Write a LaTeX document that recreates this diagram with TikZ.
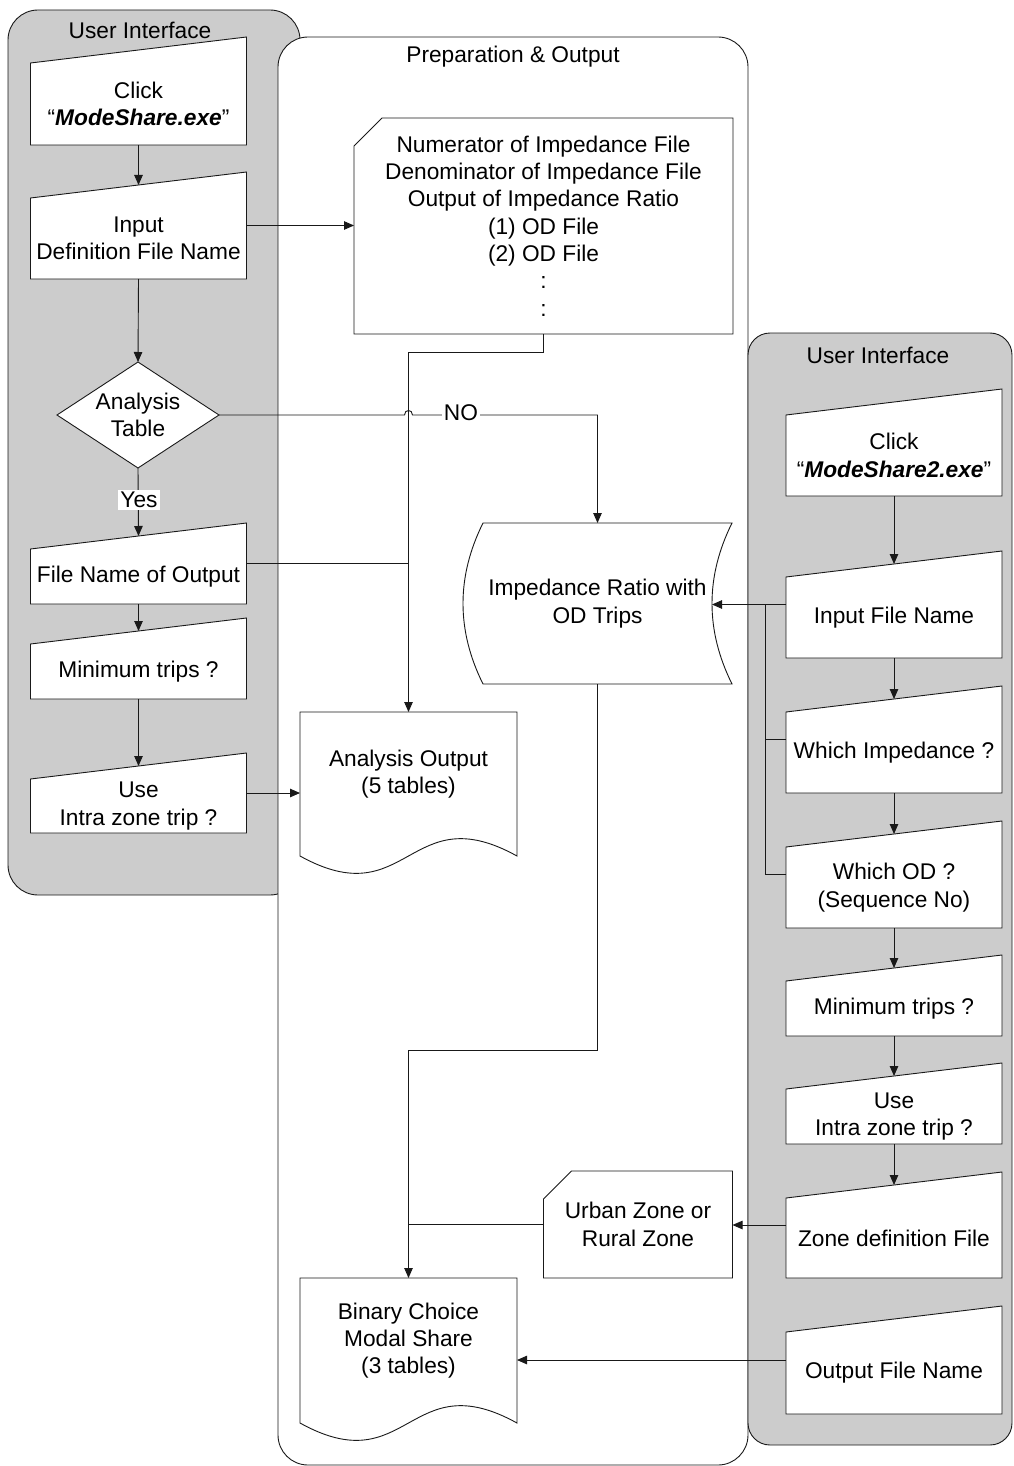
\documentclass[tikz,border=0pt]{standalone}
\usepackage{fontspec}
\setmainfont{Liberation Sans}
\usetikzlibrary{arrows.meta,shapes.geometric}

\definecolor{panelgray}{RGB}{204,204,204}
\definecolor{linecol}{RGB}{25,25,25}
\newcommand\flowsize{\fontsize{22.7pt}{27.3pt}\selectfont}

\newdimen\shpxa \newdimen\shpya
\newdimen\shpxb \newdimen\shpyb
\newdimen\shpxc \newdimen\shpyc
\newdimen\shpxd \newdimen\shpyd
\newdimen\shpxe \newdimen\shph

\makeatletter
% manual input: body rectangle with a lid rising 26pt to the right
\pgfdeclareshape{manualinput}{
  \inheritsavedanchors[from=rectangle]
  \inheritanchorborder[from=rectangle]
  \inheritanchor[from=rectangle]{center}
  \inheritanchor[from=rectangle]{north}
  \inheritanchor[from=rectangle]{south}
  \inheritanchor[from=rectangle]{east}
  \inheritanchor[from=rectangle]{west}
  \anchor{in}{\southwest \shpxa=\pgf@x
    \northeast \pgf@x=.5\pgf@x \advance\pgf@x by .5\shpxa
    \advance\pgf@y by 13pt}
  \anchor{lft}{\northeast \shpyb=\pgf@y
    \southwest \pgf@y=.5\pgf@y \advance\pgf@y by .5\shpyb
    \advance\pgf@y by 13pt}
  \anchor{rgt}{\southwest \shpya=\pgf@y
    \northeast \pgf@y=.5\pgf@y \advance\pgf@y by .5\shpya
    \advance\pgf@y by 13pt}
  \backgroundpath{
    \southwest \shpxa=\pgf@x \shpya=\pgf@y
    \northeast \shpxb=\pgf@x \shpyb=\pgf@y
    \shpyc=\shpyb \advance\shpyc by 26pt
    \pgfpathmoveto{\pgfqpoint{\shpxa}{\shpya}}
    \pgfpathlineto{\pgfqpoint{\shpxb}{\shpya}}
    \pgfpathlineto{\pgfqpoint{\shpxb}{\shpyc}}
    \pgfpathlineto{\pgfqpoint{\shpxa}{\shpyb}}
    \pgfpathclose
  }
}
% punched card: rectangle with the upper left corner cut off
\pgfdeclareshape{punchcard}{
  \inheritsavedanchors[from=rectangle]
  \inheritanchorborder[from=rectangle]
  \inheritanchor[from=rectangle]{center}
  \inheritanchor[from=rectangle]{north}
  \inheritanchor[from=rectangle]{south}
  \inheritanchor[from=rectangle]{east}
  \inheritanchor[from=rectangle]{west}
  \backgroundpath{
    \southwest \shpxa=\pgf@x \shpya=\pgf@y
    \northeast \shpxb=\pgf@x \shpyb=\pgf@y
    \shpxc=\shpxa \advance\shpxc by 28pt
    \shpyc=\shpyb \advance\shpyc by -28pt
    \pgfpathmoveto{\pgfqpoint{\shpxa}{\shpya}}
    \pgfpathlineto{\pgfqpoint{\shpxb}{\shpya}}
    \pgfpathlineto{\pgfqpoint{\shpxb}{\shpyb}}
    \pgfpathlineto{\pgfqpoint{\shpxc}{\shpyb}}
    \pgfpathlineto{\pgfqpoint{\shpxa}{\shpyc}}
    \pgfpathclose
  }
}
% document: sides run 20pt below the body, closed by a wave
\pgfdeclareshape{wavedoc}{
  \inheritsavedanchors[from=rectangle]
  \inheritanchorborder[from=rectangle]
  \inheritanchor[from=rectangle]{center}
  \inheritanchor[from=rectangle]{north}
  \inheritanchor[from=rectangle]{south}
  \inheritanchor[from=rectangle]{east}
  \inheritanchor[from=rectangle]{west}
  \backgroundpath{
    \southwest \shpxa=\pgf@x \shpya=\pgf@y
    \northeast \shpxb=\pgf@x \shpyb=\pgf@y
    \advance\shpya by -20pt
    \shph=\shpxb \advance\shph by -\shpxa
    \shpxc=\shpxa \advance\shpxc by .5\shph
    \shph=.277\shph
    \shpyc=\shpya \advance\shpyc by -\shph
    \shpyd=\shpya \advance\shpyd by \shph
    \pgfpathmoveto{\pgfqpoint{\shpxb}{\shpya}}
    \pgfpathlineto{\pgfqpoint{\shpxb}{\shpyb}}
    \pgfpathlineto{\pgfqpoint{\shpxa}{\shpyb}}
    \pgfpathlineto{\pgfqpoint{\shpxa}{\shpya}}
    \pgfpathcurveto{\pgfqpoint{\shpxc}{\shpyc}}{\pgfqpoint{\shpxc}{\shpyd}}{\pgfqpoint{\shpxb}{\shpya}}
    \pgfpathclose
  }
}
% stored data: both sides bowed to the left by 20pt
\pgfdeclareshape{storeddata}{
  \inheritsavedanchors[from=rectangle]
  \inheritanchorborder[from=rectangle]
  \inheritanchor[from=rectangle]{center}
  \inheritanchor[from=rectangle]{north}
  \inheritanchor[from=rectangle]{south}
  \inheritanchor[from=rectangle]{east}
  \inheritanchor[from=rectangle]{west}
  \backgroundpath{
    \southwest \shpxa=\pgf@x \shpya=\pgf@y
    \northeast \shpxb=\pgf@x \shpyb=\pgf@y
    \shph=\shpyb \advance\shph by -\shpya
    \shpxc=\shpxa \advance\shpxc by 20pt
    \shpxd=\shpxa \advance\shpxd by -6.667pt
    \shpxe=\shpxb \advance\shpxe by -26.667pt
    \shpyc=\shpya \advance\shpyc by .3333\shph
    \shpyd=\shpya \advance\shpyd by .6667\shph
    \pgfpathmoveto{\pgfqpoint{\shpxc}{\shpyb}}
    \pgfpathlineto{\pgfqpoint{\shpxb}{\shpyb}}
    \pgfpathcurveto{\pgfqpoint{\shpxe}{\shpyd}}{\pgfqpoint{\shpxe}{\shpyc}}{\pgfqpoint{\shpxb}{\shpya}}
    \pgfpathlineto{\pgfqpoint{\shpxc}{\shpya}}
    \pgfpathcurveto{\pgfqpoint{\shpxd}{\shpyc}}{\pgfqpoint{\shpxd}{\shpyd}}{\pgfqpoint{\shpxc}{\shpyb}}
    \pgfpathclose
  }
}
\makeatother

\tikzset{
  base/.style={draw=linecol, fill=white, line width=0.9pt, inner sep=0pt,
    outer sep=0pt, align=center, font=\flowsize},
  inbox/.style={base, shape=manualinput, minimum width=216pt, minimum height=#1},
  cardbox/.style={base, shape=punchcard},
  docbox/.style={base, shape=wavedoc, minimum width=217pt, minimum height=#1},
  storebox/.style={base, shape=storeddata},
  decision/.style={base, diamond, aspect=1.53, minimum width=162pt, minimum height=106pt},
  panel/.style={draw=linecol, line width=0.9pt, rounded corners=#1},
  title/.style={font=\flowsize, inner sep=0pt},
  line/.style={draw=linecol, line width=0.9pt},
  arr/.style={line, -{Triangle[length=10pt,width=8.5pt]}},
  lab/.style={fill=white, font=\flowsize, inner sep=2pt}
}

\begin{document}
\begin{tikzpicture}[x=1pt,y=-1pt]
\useasboundingbox (0,0) rectangle (1013,1466);

% swimlanes
\path[panel=30pt, fill=panelgray] (8,10) rectangle (300,895);
\path[panel=30pt, fill=white] (278,37) rectangle (748,1465);
\path[panel=22pt, fill=panelgray] (748,333) rectangle (1012,1445);
\node[title] (tl) at (140,30) {User Interface};
\node[title] (tm) at (513,57) {Preparation \& Output};
\node[title] (tr) at (878,355) {User Interface};

% first program
\node[inbox=82pt] (c1) at (138.5,104) {Click\\“\textbf{\textit{ModeShare.exe}}”};
\node[inbox=81pt] (inp) at (138.5,238.5) {Input\\Definition File Name};
\node[decision] (dia) at (138,415) {Analysis\\Table};
\node[inbox=55pt] (fno) at (138.5,576.5) {File Name of Output};
\node[inbox=55pt] (mt) at (138.5,671.5) {Minimum trips ?};
\node[inbox=54pt] (uiz) at (138.5,806) {Use\\Intra zone trip ?};

% files and outputs
\node[cardbox, minimum width=379pt, minimum height=216pt] (card) at (543.5,226)
  {Numerator of Impedance File\\Denominator of Impedance File\\Output of Impedance Ratio\\(1) OD File\\(2) OD File\\:\\:};
\node[docbox=124pt] (ao) at (408.5,774) {Analysis Output\\(5 tables)};
\node[storebox, minimum width=269pt, minimum height=161pt] (imp) at (597.5,603.5)
  {Impedance Ratio with\\OD Trips};
\node[cardbox, minimum width=189pt, minimum height=107pt] (urb) at (638,1224.5)
  {Urban Zone or\\Rural Zone};
\node[docbox=125pt] (bcm) at (408.5,1340.5) {Binary Choice\\Modal Share\\(3 tables)};

% second program
\node[inbox=81pt] (c2) at (894,455.5) {Click\\“\textbf{\textit{ModeShare2.exe}}”};
\node[inbox=81pt] (ifn) at (894,617.5) {Input File Name};
\node[inbox=81pt] (wi) at (894,752.5) {Which Impedance ?};
\node[inbox=81pt] (wod) at (894,887.5) {Which OD ?\\(Sequence No)};
\node[inbox=55pt] (mt2) at (894,1008.5) {Minimum trips ?};
\node[inbox=55pt] (uiz2) at (894,1116.5) {Use\\Intra zone trip ?};
\node[inbox=80pt] (zdf) at (894,1238) {Zone definition File};
\node[inbox=82pt] (ofn) at (894,1373) {Output File Name};

% connectors, first program
\draw[arr] (c1.south) -- (inp.in);
\draw[arr] (inp.south) -- (dia.north);
\draw[arr] (dia.south) -- (fno.in);
\draw[arr] (fno.south) -- (mt.in);
\draw[arr] (mt.south) -- (uiz.in);
\draw[arr] (inp.rgt) -- (inp.rgt -| card.west);
\draw[arr] (card.south) -- ++(0,18) -| (ao.north);
\coordinate (cross) at (ao.north |- dia.east);
\draw[arr] (dia.east) -- ([xshift=-4pt]cross)
  .. controls +(0,-6) and +(0,-6) .. ([xshift=4pt]cross)
  -- (cross -| imp.north) -- (imp.north);
\draw[line] (fno.rgt) -- (fno.rgt -| ao.north);
\draw[arr] (uiz.rgt) -- (uiz.rgt -| ao.west);
\draw[arr] (imp.south) -- ++(0,366) -| (bcm.north);
\node[lab] (yes) at (139,500) {Yes};
\node[lab] (no) at (461,413) {NO};

% connectors, second program
\draw[arr] (c2.south) -- (ifn.in);
\draw[arr] (ifn.south) -- (wi.in);
\draw[arr] (wi.south) -- (wod.in);
\draw[arr] (wod.south) -- (mt2.in);
\draw[arr] (mt2.south) -- (uiz2.in);
\draw[arr] (uiz2.south) -- (zdf.in);
\coordinate (impin) at ([xshift=-20pt]imp.east);
\draw[arr] (ifn.lft) -- (ifn.lft -| impin);
\coordinate (bus) at ([xshift=-21pt]ifn.lft);
\draw[line] (wi.lft) -| (bus);
\draw[line] (wod.lft) -| (bus);
\draw[arr] (zdf.lft) -- (zdf.lft -| urb.east);
\draw[line] (urb.west) -- (urb.west -| bcm.north);
\draw[arr] (ofn.lft) -- (ofn.lft -| bcm.east);
\end{tikzpicture}
\end{document}
